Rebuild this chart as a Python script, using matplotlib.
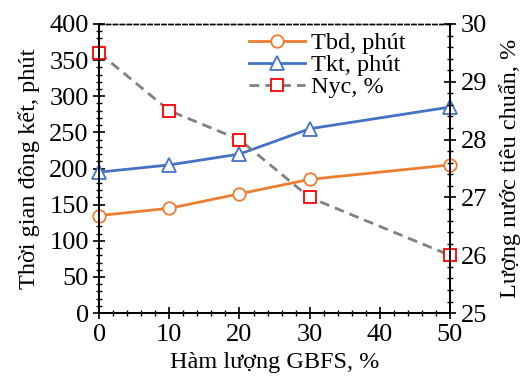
import matplotlib.pyplot as plt
from matplotlib.ticker import MultipleLocator

plt.rcParams['font.family'] = ['Liberation Serif', 'DejaVu Serif']
plt.rcParams['font.size'] = 17.5

gbfs = [0, 10, 20, 30, 50]
tbd = [135, 145, 165, 185, 205]
tkt = [195, 205, 220, 255, 285]
nyc = [29.5, 28.5, 28.0, 27.0, 26.0]

fig = plt.figure(figsize=(5.22, 3.8), dpi=100)
ax = fig.add_axes([0.190, 0.176, 0.672, 0.761])
ax2 = ax.twinx()

l1, = ax.plot(gbfs, tbd, color='#ED7D31', lw=2, marker='o', ms=9,
              mfc='white', mec='#ED7D31', mew=1.3, label='Tbd, phút', clip_on=False, zorder=3)
l2, = ax.plot(gbfs, tkt, color='#4472C4', lw=2, marker='^', ms=10,
              mfc='white', mec='#4472C4', mew=1.3, label='Tkt, phút', clip_on=False, zorder=3)
l3, = ax2.plot(gbfs, nyc, color='#808080', lw=2, ls=(0, (3.5, 2.2)), marker='s', ms=9,
               mfc='white', mec='#FF0000', mew=1.3, label='Nyc, %', clip_on=False)

ax.set_xlim(0, 50)
ax.set_ylim(0, 400)
ax2.set_ylim(25, 30)

ax.xaxis.set_major_locator(MultipleLocator(10))
ax.xaxis.set_minor_locator(MultipleLocator(2))
ax.yaxis.set_major_locator(MultipleLocator(50))
ax.yaxis.set_minor_locator(MultipleLocator(10))
ax2.yaxis.set_major_locator(MultipleLocator(1))
ax2.yaxis.set_minor_locator(MultipleLocator(0.2))

for a in (ax, ax2):
    a.tick_params(which='major', direction='inout', length=8, width=1.2, labelsize=19)
    a.tick_params(which='minor', direction='inout', length=5, width=1)
    for s in ('left', 'right', 'bottom'):
        a.spines[s].set_linewidth(1.3)
    a.spines['top'].set_linestyle((0, (3, 2)))
    a.spines['top'].set_linewidth(1)
ax.tick_params(axis='y', which='both', right=False)

ax.set_xlabel('Hàm lượng GBFS, %', labelpad=5)
ax.set_ylabel('Thời gian đông kết, phút', labelpad=7)
ax2.set_ylabel('Lượng nước tiêu chuẩn, %', labelpad=9)

ax.legend(handles=[l1, l2, l3], loc='upper left', bbox_to_anchor=(0.40, 1.005),
          frameon=False, handlelength=2.3, labelspacing=0.0, handletextpad=0.25,
          borderaxespad=0)

fig.savefig('out.png', dpi=100)
